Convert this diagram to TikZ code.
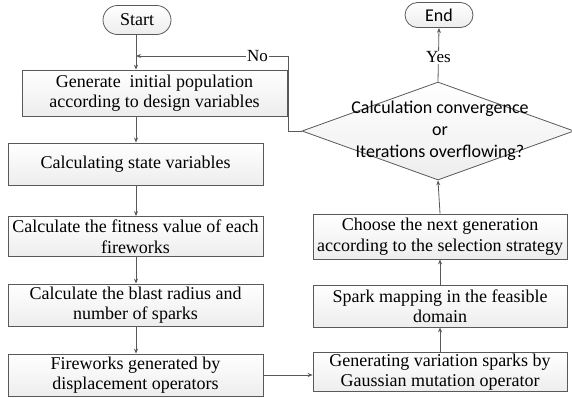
\documentclass[tikz,border=0pt]{standalone}
\usepackage{fontspec}
\setmainfont{Liberation Serif}
\newfontfamily\calib{Carlito}
\usetikzlibrary{shapes.geometric,shapes.misc,arrows.meta,shadows}
\definecolor{edge}{HTML}{595959}
\begin{document}
\begin{tikzpicture}[x=1pt,y=-1pt,
  box/.style={draw=edge,line width=0.8pt,top color=white,bottom color=gray!14,
    drop shadow={shadow xshift=0.8pt,shadow yshift=-0.8pt,fill=gray!60},
    align=center,inner sep=1pt,font=\fontsize{18}{20.5}\selectfont},
  term/.style={draw=edge,line width=0.8pt,rounded rectangle,top color=white,bottom color=gray!14,
    inner sep=1pt,font=\fontsize{18}{20}\selectfont},
  dec/.style={draw=edge,line width=0.8pt,diamond,top color=white,bottom color=gray!14,
    inner sep=0pt},
  dectext/.style={align=center,inner sep=0pt,font=\calib\fontsize{18}{22}\selectfont},
  arr/.style={draw=edge,line width=0.8pt,-{Stealth[length=5pt,width=4pt]}},
  lab/.style={fill=white,inner sep=1pt,font=\fontsize{17}{19}\selectfont}]
\useasboundingbox (0,0) rectangle (572,397);

\node[term,minimum width=70pt,minimum height=29pt] (start) at (137,20) {Start};
\node[box,minimum width=265pt,minimum height=46pt] (g1) at (154.5,93) {Generate\ \ initial population\\according to design variables};
\node[box,minimum width=255pt,minimum height=42pt] (g2) at (135.5,164) {Calculating state variables};
\node[box,minimum width=255pt,minimum height=40pt] (g3) at (135.5,236.5) {Calculate the fitness value of each\\fireworks};
\node[box,minimum width=255pt,minimum height=42pt] (g4) at (135.5,305) {Calculate the blast radius and\\number of sparks};
\node[box,minimum width=255pt,minimum height=42pt] (g5) at (135.5,375) {Fireworks generated by\\displacement operators};

\node[box,minimum width=254pt,minimum height=38pt] (r1) at (440,372) {Generating variation sparks by\\Gaussian mutation operator};
\node[box,minimum width=254pt,minimum height=42pt] (r2) at (440,306) {Spark mapping in the feasible\\domain};
\node[box,minimum width=254pt,minimum height=45pt] (r3) at (440,236.5) {Choose the next generation\\according to the selection strategy};
\node[dec,minimum width=272pt,minimum height=98pt] (d) at (438,131) {};
\node[dectext] (dt) at (440,131) {Calculation convergence\\or\\Iterations overflowing?};
\node[term,minimum width=70pt,minimum height=25pt,font=\calib\fontsize{18}{20}\selectfont] (end) at (439,15) {End};

\coordinate (c1) at (288,131);
\coordinate (c2) at (288,56);
\coordinate (c3) at (136,56);

\draw[arr] (start.south -| c3) -- (c3 |- g1.north);
\draw[arr] (g1.south -| c3) -- (c3 |- g2.north);
\draw[arr] (g2.south -| c3) -- (c3 |- g3.north);
\draw[arr] (g3.south -| c3) -- (c3 |- g4.north);
\draw[arr] (g4.south -| c3) -- (c3 |- g5.north);
\draw[arr] (g5.east |- 0,375) -- (r1.west |- 0,375);
\draw[arr] (r1.north) -- (r2.south);
\draw[arr] (r2.north) -- (r3.south);
\draw[arr] (r3.north) -- (d.south);
\draw[arr] (d.north) -- node[lab,pos=0.45]{Yes} (end.south);
\draw[arr] (d.west) -- (c1) -- (c2) -- node[lab,pos=0.2]{No} (c3);
\end{tikzpicture}
\end{document}
